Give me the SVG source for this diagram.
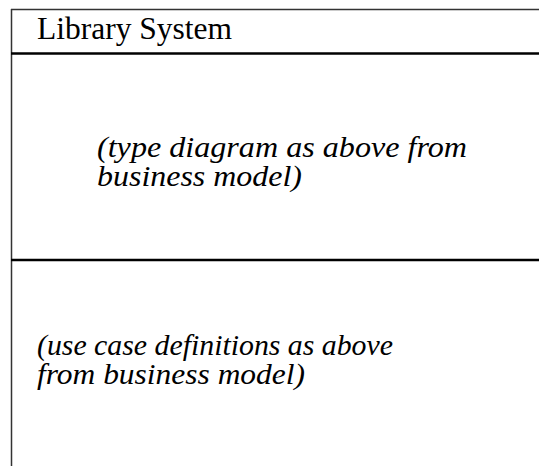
<svg xmlns="http://www.w3.org/2000/svg" width="539" height="466" viewBox="0 0 539 466">
<style>
.title{font-family:"Liberation Serif","Times New Roman",serif;font-size:31.5px;fill:#000}
.note{font-family:"Liberation Serif","Times New Roman",serif;font-size:29px;font-style:italic;fill:#000}
.edge{stroke:#333;stroke-width:1.5;fill:none}
.div{stroke:#000;stroke-width:2.5;fill:none}
</style>
<rect width="539" height="466" fill="#fff"/>
<g id="frame">
<line class="edge" x1="11" y1="9.5" x2="539" y2="9.5"/>
<line class="edge" x1="11.5" y1="9" x2="11.5" y2="466"/>
<line class="div" x1="11" y1="53.5" x2="539" y2="53.5"/>
<line class="div" x1="11" y1="260" x2="539" y2="260"/>
</g>
<g id="title">
<text class="title" x="37" y="38.5" textLength="195" lengthAdjust="spacingAndGlyphs">Library System</text>
</g>
<g id="types">
<text class="note" x="97" y="157" textLength="370" lengthAdjust="spacingAndGlyphs">(type diagram as above from</text>
<text class="note" x="97" y="186" textLength="205" lengthAdjust="spacingAndGlyphs">business model)</text>
</g>
<g id="usecases">
<text class="note" x="37" y="355" textLength="356" lengthAdjust="spacingAndGlyphs">(use case definitions as above</text>
<text class="note" x="37" y="384" textLength="268" lengthAdjust="spacingAndGlyphs">from business model)</text>
</g>
</svg>
